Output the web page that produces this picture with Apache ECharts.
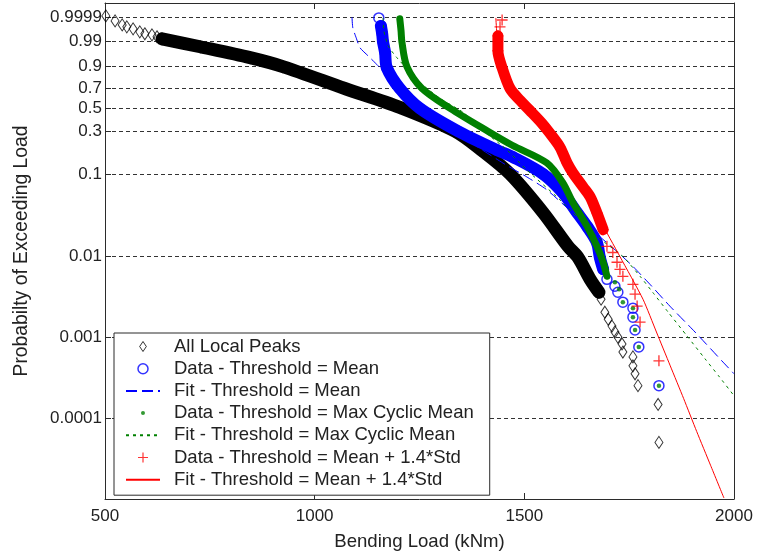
<!DOCTYPE html>
<html>
<head>
<meta charset="utf-8">
<script src="https://cdn.jsdelivr.net/npm/echarts@6/dist/echarts.min.js"></script>
<style>
  html, body { margin: 0; padding: 0; background: #fff; }
  #chart { width: 762px; height: 556px; }
</style>
</head>
<body>
<div id="chart"></div>
<script>
// Bending load (kNm) and probability of exceeding that load.

// All local peaks
const peaksLoad = [502, 524, 541, 552, 567, 583, 595, 612, 624, 636, 727, 846, 924, 1072, 1203, 1335, 1401, 1466,
  1545, 1604, 1628, 1657, 1678, 1683, 1692, 1700, 1709, 1716, 1723, 1733, 1735, 1759, 1759, 1764, 1771, 1819, 1821];
const peaksProb = [0.99993, 0.99975, 0.99939, 0.99909, 0.99866, 0.9977, 0.9968, 0.9962, 0.9949, 0.9931, 0.9811, 0.9454,
  0.8949, 0.701, 0.5059, 0.3003, 0.1834, 0.1, 0.0344, 0.01335, 0.00977, 0.00523, 0.00362, 0.00297, 0.00205, 0.00168,
  0.00138, 0.00117, 0.00101, 0.00083, 0.00066, 0.000574, 0.000445, 0.000355, 0.000253, 0.000148, 0.0000502];

// Peaks over threshold = mean
const meanLoad = [1153, 1158, 1161, 1163, 1168, 1172, 1203, 1251, 1342, 1435, 1473, 1545, 1592, 1626, 1650, 1673,
  1680, 1688, 1697, 1716, 1723, 1735, 1759, 1759, 1764, 1773, 1821];
const meanProb = [0.99988, 0.99925, 0.9968, 0.9897, 0.9649, 0.888, 0.701, 0.496, 0.3003, 0.1882, 0.1571, 0.1, 0.0598,
  0.0344, 0.02325, 0.01484, 0.00977, 0.00695, 0.00523, 0.004292, 0.00362, 0.002729, 0.002302, 0.001783, 0.001235,
  0.000763, 0.000253];

// Fit, threshold = mean
const fitMeanLoad = [1089, 1091, 1099, 1108, 1127, 1151, 1199, 1244, 1327, 1449, 1506, 1554, 1633, 1721, 1759, 1804,
  1847, 1907, 1971, 2000];
const fitMeanProb = [0.9999, 0.99889, 0.99405, 0.9789, 0.9539, 0.9015, 0.7215, 0.5158, 0.3075, 0.1343, 0.09243,
  0.06489, 0.02826, 0.01151, 0.00754, 0.004285, 0.00244, 0.001167, 0.000513, 0.000355];

// Peaks over threshold = max cyclic mean
const cycLoad = [1203, 1206, 1208, 1220, 1256, 1323, 1413, 1471, 1554, 1592, 1616, 1650, 1673, 1688, 1697, 1716,
  1726, 1735, 1759, 1759, 1764, 1773, 1821];
const cycProb = [0.99985, 0.99807, 0.9897, 0.8949, 0.701, 0.496, 0.3003, 0.213, 0.1343, 0.0785, 0.04537, 0.02325,
  0.01335, 0.00849, 0.0057, 0.0048, 0.00394, 0.002729, 0.002302, 0.001783, 0.001235, 0.000763, 0.000253];

// Fit, threshold = max cyclic mean
const fitCycLoad = [1163, 1165, 1175, 1194, 1220, 1251, 1299, 1354, 1401, 1459, 1506, 1585, 1668, 1735, 1776, 1806,
  1843, 1888, 1931, 1963, 2000];
const fitCycProb = [0.99988, 0.99807, 0.9832, 0.9498, 0.881, 0.7611, 0.5974, 0.4577, 0.3075, 0.1882, 0.1115, 0.0493,
  0.01858, 0.00998, 0.0057, 0.00362, 0.002054, 0.001042, 0.000543, 0.000336, 0.00019];

// Peaks over threshold = mean + 1.4*std
const stdLoad = [1447, 1442, 1437, 1437, 1447, 1466, 1490, 1513, 1542, 1561, 1585, 1602, 1616, 1640, 1657, 1673,
  1688, 1697, 1711, 1721, 1728, 1735, 1759, 1764, 1769, 1776, 1821];
const stdProb = [0.9998, 0.99909, 0.9956, 0.9711, 0.888, 0.701, 0.5767, 0.4766, 0.3611, 0.2864, 0.203, 0.1343,
  0.1029, 0.07046, 0.05354, 0.0344, 0.02137, 0.01335, 0.0112, 0.00849, 0.00695, 0.0057, 0.00454, 0.00343, 0.00244,
  0.00155, 0.000513];

// Fit, threshold = mean + 1.4*std
const fitStdLoad = [1432, 1435, 1442, 1456, 1478, 1513, 1561, 1602, 1645, 1680, 1728, 1783, 1815, 1848, 1880, 1911,
  1944, 1976];
const fitStdProb = [0.99988, 0.9956, 0.9539, 0.8255, 0.6286, 0.4766, 0.2864, 0.1453, 0.06489, 0.02826, 0.00998,
  0.002965, 0.001167, 0.000445, 0.0001747, 0.0000686, 0.0000262, 0.0000103];

// Probability ticks and axis limits
const yTickLabels = ['0.9999', '0.99', '0.9', '0.7', '0.5', '0.3', '0.1', '0.01', '0.001', '0.0001'];
const probTop = 0.999999;
const probBottom = 0.00001;
const loadMin = 500, loadMax = 2000, loadStep = 500;

// Gumbel reduced variate of the non-exceedance probability
function gumbel(p) { return -Math.log(-Math.log(1 - p)); }
function pairs(load, prob) { return load.map((x, i) => [x, gumbel(prob[i])]); }

const yTickValues = yTickLabels.map(s => gumbel(parseFloat(s)));
function yLabel(v) {
  for (let i = 0; i < yTickValues.length; i++) {
    if (Math.abs(yTickValues[i] - v) < 1e-6) return yTickLabels[i];
  }
  return '';
}

const FONT = 'Liberation Sans, Arial, Helvetica, sans-serif';
const TEXT = '#222';
const AXIS = '#2b2b2b';
const plusPath = 'path://M4.4,0h1.2v10h-1.2z M0,4.4h10v1.2h-10z';
const diamondPath = 'path://M4,0L8,6L4,12L0,6Z';
// small dot centred in a 10x10 box (corner specks keep the box size)
const dotPath = 'path://M0,0h0.01v0.01h-0.01z M10,10h0.01v0.01h-0.01z M5,3A2,2 0 1,1 5,7A2,2 0 1,1 5,3Z';

const peaks = pairs(peaksLoad, peaksProb);
const mean = pairs(meanLoad, meanProb);
const cyc = pairs(cycLoad, cycProb);
const std = pairs(stdLoad, stdProb);

// Dense stretches of each sample are drawn as a thick band under the markers
function band(data, color, width, z) {
  return {
    type: 'line', data: data, smooth: 0.3, symbol: 'none', silent: true, z: z,
    lineStyle: { color: color, width: width, cap: 'round', join: 'round' }
  };
}
function fit(name, data, color, dash, z) {
  return {
    type: 'line', name: name, data: data, smooth: 0.2, symbol: 'none', silent: true, z: z,
    lineStyle: { color: color, width: 1, type: dash }
  };
}

const hiddenIcon = { opacity: 0 };

const chart = echarts.init(document.getElementById('chart'), null, { renderer: 'canvas' });
chart.setOption({
  animation: false,
  backgroundColor: '#fff',
  textStyle: { fontFamily: FONT },
  grid: { left: 105, right: 28, top: 3, bottom: 55 },
  xAxis: [{
    type: 'value', min: loadMin, max: loadMax, interval: loadStep,
    name: 'Bending Load (kNm)', nameLocation: 'middle', nameGap: 33,
    nameTextStyle: { fontSize: 18.6, color: TEXT, fontFamily: FONT },
    axisLine: { show: true, onZero: false, lineStyle: { color: AXIS, width: 1 } },
    axisTick: { show: true, inside: true, length: 6, lineStyle: { color: AXIS } },
    axisLabel: { fontSize: 17, color: TEXT, margin: 9, fontFamily: FONT, formatter: v => String(v) },
    splitLine: { show: false }
  }, {
    type: 'value', position: 'top', min: loadMin, max: loadMax, interval: loadStep,
    axisLine: { show: true, onZero: false, lineStyle: { color: AXIS, width: 1 } },
    axisTick: { show: true, inside: true, length: 6, lineStyle: { color: AXIS } },
    axisLabel: { show: false },
    splitLine: { show: false }
  }],
  yAxis: [{
    type: 'value', inverse: true, min: gumbel(probTop), max: gumbel(probBottom),
    name: 'Probabilty of Exceeding Load', nameLocation: 'middle', nameGap: 74,
    nameTextStyle: { fontSize: 19.3, color: TEXT, fontFamily: FONT },
    axisLine: { show: true, onZero: false, lineStyle: { color: AXIS, width: 1 } },
    axisTick: { show: true, inside: true, length: 6, customValues: yTickValues, lineStyle: { color: AXIS } },
    axisLabel: { fontSize: 17, color: TEXT, margin: 3, customValues: yTickValues, formatter: yLabel, fontFamily: FONT },
    splitLine: { show: true, lineStyle: { color: '#333', width: 1, type: [4, 3] } }
  }, {
    type: 'value', position: 'right', inverse: true, min: gumbel(probTop), max: gumbel(probBottom),
    axisLine: { show: true, onZero: false, lineStyle: { color: AXIS, width: 1 } },
    axisTick: { show: true, inside: true, length: 6, customValues: yTickValues, lineStyle: { color: AXIS } },
    axisLabel: { show: false },
    splitLine: { show: false }
  }],
  legend: {
    orient: 'vertical', left: 114, top: 333, padding: [4, 16, 6, 11],
    itemWidth: 34, itemHeight: 10, itemGap: 3.2, symbolKeepAspect: true,
    borderColor: '#2b2b2b', borderWidth: 1, backgroundColor: '#fff', z: 20,
    selectedMode: false,
    textStyle: { fontFamily: FONT, fontSize: 18.5, color: TEXT, padding: [0, 0, 0, 9] },
    data: [
      { name: 'All Local Peaks', icon: diamondPath, itemStyle: { color: 'rgba(0,0,0,0)', borderColor: '#000', borderWidth: 1 } },
      { name: 'Data - Threshold = Mean', icon: 'circle', itemStyle: { color: 'rgba(0,0,0,0)', borderColor: '#0000ff', borderWidth: 1.5 } },
      { name: 'Fit - Threshold = Mean', itemStyle: hiddenIcon },
      { name: 'Data - Threshold = Max Cyclic Mean', icon: dotPath, itemStyle: { color: '#008000', borderWidth: 0 } },
      { name: 'Fit - Threshold = Max Cyclic Mean', itemStyle: hiddenIcon },
      { name: 'Data - Threshold = Mean + 1.4*Std', icon: plusPath, itemStyle: { color: '#ff0000', borderWidth: 0 } },
      { name: 'Fit - Threshold = Mean + 1.4*Std', itemStyle: hiddenIcon }
    ]
  },
  series: [
    band(peaks.slice(9, 23), '#000', 13, 2),
    {
      type: 'scatter', name: 'All Local Peaks', data: peaks, z: 3, silent: true,
      symbol: 'diamond', symbolSize: [8, 12],
      itemStyle: { color: 'rgba(0,0,0,0)', borderColor: '#000', borderWidth: 1 }
    },
    band(mean.slice(1, 18), '#0000ff', 12, 4),
    {
      type: 'scatter', name: 'Data - Threshold = Mean', data: mean, z: 5, silent: true,
      symbol: 'circle', symbolSize: 10,
      itemStyle: { color: 'rgba(0,0,0,0)', borderColor: '#0000ff', borderWidth: 1.5 }
    },
    fit('Fit - Threshold = Mean', pairs(fitMeanLoad, fitMeanProb), '#0000ff', [11, 5], 6),
    band(cyc.slice(0, 15), '#008000', 7, 7),
    {
      type: 'scatter', name: 'Data - Threshold = Max Cyclic Mean', data: cyc, z: 8, silent: true,
      symbol: 'circle', symbolSize: 4.5,
      itemStyle: { color: '#008000' }
    },
    fit('Fit - Threshold = Max Cyclic Mean', pairs(fitCycLoad, fitCycProb), '#008000', [3, 4], 9),
    band(std.slice(2, 17), '#ff0000', 11, 10),
    {
      type: 'scatter', name: 'Data - Threshold = Mean + 1.4*Std', data: std, z: 11, silent: true,
      symbol: plusPath, symbolSize: 11,
      itemStyle: { color: '#ff0000' }
    },
    fit('Fit - Threshold = Mean + 1.4*Std', pairs(fitStdLoad, fitStdProb), '#ff0000', 'solid', 12)
  ]
});
</script>
</body>
</html>
